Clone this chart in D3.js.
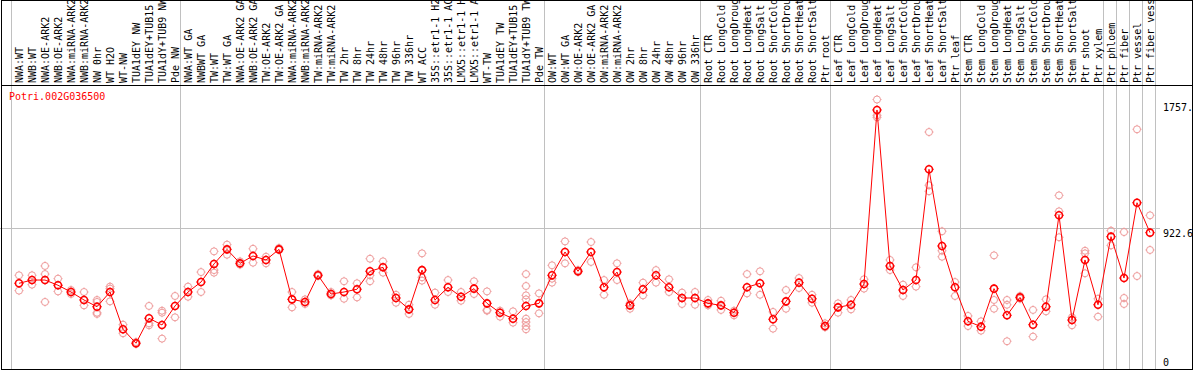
<!DOCTYPE html>
<html>
<head>
<meta charset="utf-8">
<script src="https://cdn.jsdelivr.net/npm/d3@7"></script>
<style>
	body { margin: 0; background: #fff; }
	text { font-family: "DejaVu Sans Mono", monospace; font-size: 10px; }
</style>
</head>
<body>
<div id="plot"></div>
<script>
var gene = "Potri.002G036500";

var labels = [
	"NWA:WT", "NWB:WT", "NWA:OE-ARK2", "NWB:OE-ARK2", "NWA:miRNA-ARK2", "NWB:miRNA-ARK2", "NW 0hr", "WT H2O", "WT-NW", "TUA1dEY NW", "TUA1dEY+TUB15", "TUA1dY+TUB9 NW", "Pde NW",
	"NWA:WT GA", "NWBWT GA", "TW:WT", "TW:WT GA", "NWA:OE-ARK2 GA", "NWB:OE-ARK2 GA", "TW:OE-ARK2", "TW:OE-ARK2 GA", "NWA:miRNA-ARK2", "NWB:miRNA-ARK2", "TW:miRNA-ARK2", "TW:miRNA-ARK2",
	"TW 2hr", "TW 8hr", "TW 24hr", "TW 48hr", "TW 96hr", "TW 336hr", "WT ACC", "35S::etr1-1 H2O", "35S::etr1-1 ACC", "LMX5::etr1-1 H2O", "LMX5::etr1-1 ACC", "WT-TW", "TUA1dEY TW", "TUA1dEY+TUB15 TW", "TUA1dY+TUB9 TW", "Pde TW",
	"OW:WT", "OW:WT GA", "OW:OE-ARK2", "OW:OE-ARK2 GA", "OW:miRNA-ARK2", "OW:miRNA-ARK2", "OW 2hr", "OW 8hr", "OW 24hr", "OW 48hr", "OW 96hr", "OW 336hr",
	"Root CTR", "Root LongCold", "Root LongDrought", "Root LongHeat", "Root LongSalt", "Root ShortCold", "Root ShortDrought", "Root ShortHeat", "Root ShortSalt", "Ptr root",
	"Leaf CTR", "Leaf LongCold", "Leaf LongDrought", "Leaf LongHeat", "Leaf LongSalt", "Leaf ShortCold", "Leaf ShortDrought", "Leaf ShortHeat", "Leaf ShortSalt", "Ptr leaf",
	"Stem CTR", "Stem LongCold", "Stem LongDrought", "Stem LongHeat", "Stem LongSalt", "Stem ShortCold", "Stem ShortDrought", "Stem ShortHeat", "Stem ShortSalt", "Ptr shoot", "Ptr xylem",
	"Ptr phloem", "Ptr fiber", "Ptr vessel", "Ptr fiber vessel"
];

// number of samples in each block between the grey separators
var groupSizes = [13, 28, 12, 10, 10, 11, 1, 1, 1, 1];

var means = [
	559, 580, 580, 546, 502, 450, 406, 502, 259, 168, 331, 287, 411,
	502, 567, 685, 780, 689, 737, 711, 780, 454, 437, 611, 489, 502, 520, 637, 663, 463, 389, 645, 450, 533, 471, 524, 428, 367, 328, 411, 428,
	611, 763, 637, 763, 533, 632, 415, 520, 611, 533, 463, 463,
	428, 415, 367, 533, 559, 324, 441, 563, 458, 280,
	402, 419, 554, 1689, 672, 515, 580, 1302, 802, 533,
	311, 276, 524, 350, 467, 289, 406, 1002, 319, 711, 419,
	863, 593, 1084, 889
];

var replicates = [
	[611, 511], [611, 550], [672, 619, 437], [589, 506], [515, 489], [502, 415], [450, 437, 367, 359], [537, 524, 441], [289, 233], [176, 163], [411, 298, 285], [380, 367, 198], [476, 337],
	[537, 471], [632, 502], [767, 645, 628], [811, 745], [702, 680], [784, 693], [732, 689], [789, 776], [502, 402], [454, 424], [619, 606], [502, 480], [572, 458], [559, 467],
	[719, 611, 572], [702, 628], [484, 432], [419, 359], [754, 598, 576], [498, 419], [580, 502], [502, 445], [572, 489], [506, 385, 380], [380, 341], [376, 302],
	[619, 541, 480, 454, 328, 306, 280, 259], [493, 363],
	[676, 589, 563], [832, 689], [645, 632], [828, 698], [580, 484], [689, 580], [428, 393], [563, 480], [645, 563], [585, 502], [498, 424], [502, 419],
	[450, 415], [445, 385], [380, 350], [619, 493], [637, 484], [372, 263], [515, 393], [593, 528], [484, 432], [298, 272],
	[428, 367], [450, 389], [585, 524], [1757, 1654, 1641], [711, 645], [550, 476], [663, 537], [1545, 1198, 1159], [898, 771, 732], [567, 476],
	[346, 280], [311, 250], [741, 450, 393], [450, 419, 181], [476, 458], [385, 211], [454, 376], [1132, 1028, 859], [337, 285], [771, 754, 624], [458, 341],
	[902, 806], [893, 463, 424], [1563, 606], [1002, 776]
];

var yTicks = [1757, 922.6, 0];
var yTickLabels = ["1757.", "922.6", "0"];
var yMax = 1845.2;

var width = 1194, height = 370;
var headerBottom = 85.5;
var plotTop = 86, plotBottom = 369;

var svg = d3.select("#plot").append("svg")
	.attr("width", width)
	.attr("height", height);

var x = d3.scalePoint().domain(d3.range(labels.length)).range([19, 1150]);
var step = x.step();
var y = d3.scaleLinear().domain([0, yMax]).range([plotBottom, plotTop]);

// separators
var bounds = [0];
groupSizes.forEach(function(s) { bounds.push(bounds[bounds.length - 1] + s); });

svg.append("g")
	.selectAll("line")
	.data(bounds)
	.enter().append("line")
	.attr("x1", function(d) { return Math.round(x(0) + d * step - 8) + 0.5; })
	.attr("x2", function(d) { return Math.round(x(0) + d * step - 8) + 0.5; })
	.attr("y1", 0)
	.attr("y2", height)
	.style("stroke", "#c0c0c0");

svg.append("line")
	.attr("x1", 0).attr("x2", 1160)
	.attr("y1", Math.round(y(922.6)) + 0.5)
	.attr("y2", Math.round(y(922.6)) + 0.5)
	.style("stroke", "#c0c0c0");

// sample labels in the header
svg.append("clipPath").attr("id", "hdr")
	.append("rect").attr("x", 0).attr("y", 1).attr("width", width).attr("height", headerBottom - 1);

svg.append("g")
	.attr("clip-path", "url(#hdr)")
	.selectAll("text")
	.data(labels)
	.enter().append("text")
	.attr("transform", function(d, i) { return "translate(" + (x(i) + 3.5) + ",83) rotate(-90)"; })
	.text(function(d) { return d; });

// frame
svg.append("rect")
	.attr("x", 1.5).attr("y", 0.5)
	.attr("width", 1191).attr("height", 369)
	.style("fill", "none")
	.style("stroke", "#000");

svg.append("line")
	.attr("x1", 1).attr("x2", 1193)
	.attr("y1", headerBottom).attr("y2", headerBottom)
	.style("stroke", "#000");

svg.append("text")
	.attr("x", 9)
	.attr("y", 100)
	.style("fill", "red")
	.text(gene);

// y labels on the right
svg.append("g")
	.selectAll("text")
	.data(yTicks)
	.enter().append("text")
	.attr("x", 1163)
	.attr("y", function(d, i) {
		if (i == 0) return y(d) + 11;
		if (i == 1) return y(d) + 9;
		return y(d) - 3;
	})
	.text(function(d, i) { return yTickLabels[i]; });

function marker(g, color, sw, tick) {
	var r = 3.5;
	g.append("circle").attr("r", r).style("fill", "none").style("stroke", color).style("stroke-width", sw);
	g.append("path")
		.attr("d", "M0," + (-r - tick) + "V" + (-r) + "M0," + r + "V" + (r + tick) +
			"M" + (-r - tick) + ",0H" + (-r) + "M" + r + ",0H" + (r + tick))
		.style("stroke", color)
		.style("stroke-width", 1);
}

// replicate points
var reps = [];
replicates.forEach(function(arr, i) {
	arr.forEach(function(v) { reps.push({ index: i, value: v }); });
});

svg.append("g")
	.selectAll("g")
	.data(reps)
	.enter().append("g")
	.attr("transform", function(d) { return "translate(" + x(d.index) + "," + y(d.value) + ")"; })
	.each(function() { marker(d3.select(this), "#ee9999", 1, 1); });

// mean line
var line = d3.line()
	.x(function(d, i) { return x(i); })
	.y(function(d) { return y(d); });

svg.append("path")
	.datum(means)
	.attr("d", line)
	.style("fill", "none")
	.style("stroke", "red")
	.style("stroke-width", 1);

svg.append("g")
	.selectAll("g")
	.data(means)
	.enter().append("g")
	.attr("transform", function(d, i) { return "translate(" + x(i) + "," + y(d) + ")"; })
	.each(function() { marker(d3.select(this), "red", 1.6, 1.2); });
</script>
</body>
</html>
